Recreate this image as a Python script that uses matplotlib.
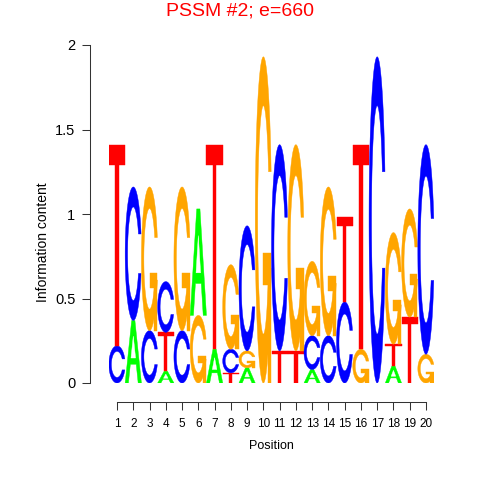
import matplotlib
matplotlib.use("Agg")
import numpy as np
import matplotlib.pyplot as plt
from matplotlib.patches import Polygon

plt.rcParams['font.family'] = ['Liberation Sans', 'DejaVu Sans']

# information content per base, positions 1..20
positions = list(range(1, 21))
A = [0, 0.37, 0, 0.07, 0, 0.63, 0.20, 0, 0.09, 0, 0, 0, 0.08, 0, 0, 0, 0, 0.10, 0, 0]
C = [0.22, 0.79, 0.31, 0.30, 0.31, 0, 0, 0.14, 0.74, 0, 1.22, 0, 0.20, 0.28, 0.48, 0, 1.93, 0, 0, 1.24]
G = [0, 0, 0.85, 0, 0.85, 0.40, 0, 0.50, 0.10, 1.93, 0, 1.22, 0.44, 0.88, 0, 0.20, 0, 0.66, 0.64, 0.17]
T = [1.19, 0, 0, 0.23, 0, 0, 1.21, 0.06, 0, 0, 0.19, 0.19, 0, 0, 0.50, 1.21, 0, 0.13, 0.39, 0]

colors = {"A": "#00FF00", "C": "#0000FF", "G": "#FFA500", "T": "#FF0000"}


# letter outlines in a unit box, like the old seqLogo polygons
def c_shape():
    a1 = np.linspace(0.3 + np.pi / 2, np.pi, 100)
    a2 = np.linspace(np.pi, 1.5 * np.pi, 100)
    xl = np.r_[0.5 + 0.5 * np.sin(a1), 0.5 + 0.5 * np.sin(a2)]
    yl = np.r_[0.5 + 0.5 * np.cos(a1), 0.5 + 0.5 * np.cos(a2)]
    top = (0.5 + 0.5 * np.cos(a1)).max()
    xo = np.r_[xl, xl[::-1]]
    yo = np.r_[yl, 1 - yl[::-1]]
    xi1 = 0.5 + 0.35 * np.sin(a1)
    yi1 = 0.5 + 0.35 * np.cos(a1)
    keep = yi1 <= top
    xi1, yi1 = xi1[keep], yi1[keep]
    yi1[0] = top
    xi = np.r_[xi1, 0.5 + 0.35 * np.sin(a2)]
    yi = np.r_[yi1, 0.5 + 0.35 * np.cos(a2)]
    xin = np.r_[xi, xi[::-1]]
    yin = np.r_[yi, 1 - yi[::-1]]
    return [np.c_[np.r_[xo, xin[::-1]], np.r_[yo, yin[::-1]]]]


def g_shape():
    r1 = 0.5 + 0.5 * np.sin(0.3 + np.pi / 2)
    h1 = 0.4
    bar = np.c_[[r1, 0.5, 0.5, r1 - 0.2, r1 - 0.2, r1, r1],
                [h1, h1, h1 - 0.1, h1 - 0.1, 0, 0, h1]]
    return c_shape() + [bar]


shapes = {
    "A": [np.c_[[0, 0.4, 0.6, 1, 0.8, 0.68, 0.32, 0.2, 0], [0, 1, 1, 0, 0, 0.3, 0.3, 0, 0]]],
    "C": c_shape(),
    "G": g_shape(),
    "T": [np.c_[[0, 1, 1, 0.6, 0.6, 0.4, 0.4, 0], [1, 1, 0.9, 0.9, 0, 0, 0.9, 0.9]]],
}
a_hole = np.c_[[0.36, 0.5, 0.64, 0.36], [0.4, 0.75, 0.4, 0.4]]


def draw_letter(ax, ch, x, y0, h, w=1.0):
    for pts in shapes[ch]:
        xy = np.c_[x - w / 2 + w * pts[:, 0], y0 + h * pts[:, 1]]
        ax.add_patch(Polygon(xy, closed=True, fc=colors[ch], ec=colors[ch], lw=0.3))
    if ch == "A":
        xy = np.c_[x - w / 2 + w * a_hole[:, 0], y0 + h * a_hole[:, 1]]
        ax.add_patch(Polygon(xy, closed=True, fc="white", ec="white", lw=0.3))


fig = plt.figure(figsize=(4.8, 4.8), dpi=100)
ax = fig.add_axes([108.9 / 480, 97 / 480, 325.2 / 480, 338 / 480])

for i, p in enumerate(positions):
    col = sorted([("A", A[i]), ("C", C[i]), ("G", G[i]), ("T", T[i])], key=lambda t: t[1])
    y = 0
    for ch, h in col:
        if h > 0:
            draw_letter(ax, ch, p, y, h)
            y += h

ax.set_xlim(0.5, 20.5)
ax.set_ylim(0, 2)
ax.spines["top"].set_visible(False)
ax.spines["right"].set_visible(False)
ax.spines["left"].set_position(("outward", 13.7))
ax.spines["bottom"].set_position(("outward", 13.5))
ax.spines["left"].set_bounds(0, 2)
ax.spines["bottom"].set_bounds(1, 20)
for s in ["left", "bottom"]:
    ax.spines[s].set_linewidth(0.75)
    ax.spines[s].set_color("#333333")

ax.set_xticks(positions)
ax.set_xticklabels([str(p) for p in positions], fontsize=8.5)
ax.set_yticks([0, 0.5, 1, 1.5, 2])
ax.set_yticklabels(["0", "0.5", "1", "1.5", "2"], fontsize=10.5)
ax.tick_params(axis="both", length=5.5, width=0.75, color="#333333")
ax.tick_params(axis="x", pad=6)
ax.tick_params(axis="y", pad=5)

fig.text(271 / 480, 1 - 446 / 480, "Position", ha="center", va="center", fontsize=9)
fig.text(43 / 480, 1 - 242 / 480, "Information content", ha="center", va="center",
         rotation=90, fontsize=10)
fig.text(0.5, 1 - 11 / 480, "PSSM #2; e=660", ha="center", va="center", fontsize=14, color="red")

fig.savefig("out.png", dpi=100)
